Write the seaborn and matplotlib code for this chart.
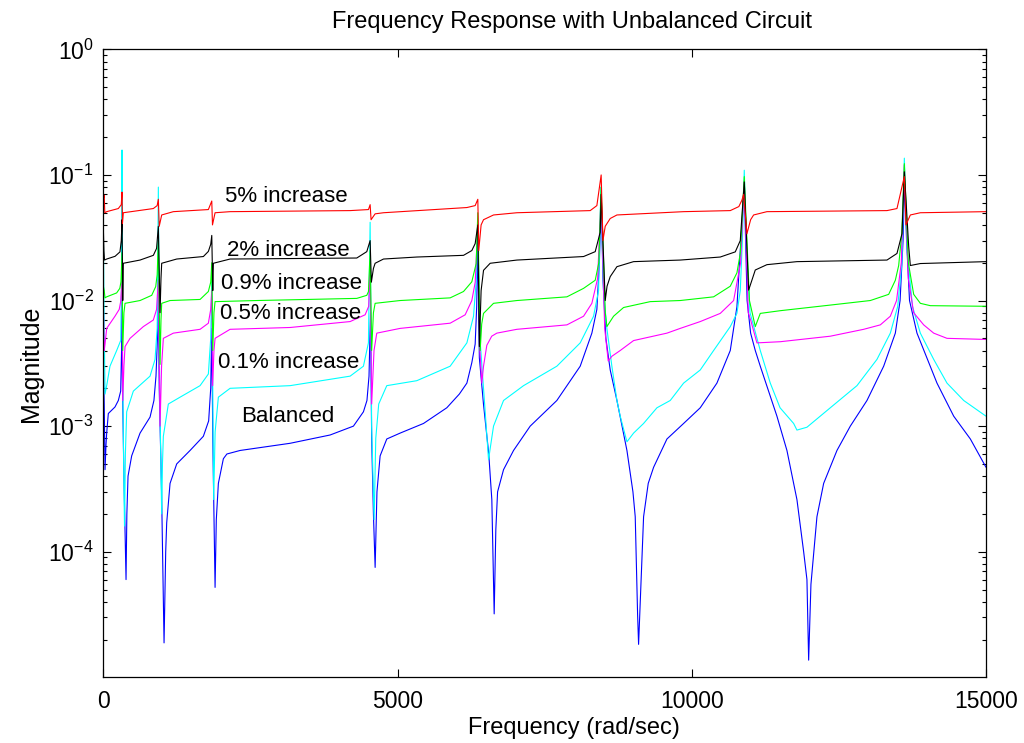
import matplotlib
matplotlib.use("Agg")
import matplotlib.pyplot as plt
import seaborn as sns
from matplotlib.ticker import LogLocator, FixedLocator

# (frequency in rad/sec, magnitude), one list per curve
balanced = [
    (0, 0.0035), (15, 0.0015), (29, 0.00045), (45, 0.0007), (57, 0.00088), (85, 0.00126),
    (198, 0.00142), (255, 0.0016), (295, 0.0019), (310, 0.004), (318, 0.012), (326, 0.002),
    (350, 0.0004), (386, 0.00006), (400, 0.0002), (420, 0.0004), (482, 0.00058), (624, 0.00088),
    (794, 0.00118), (860, 0.0016), (895, 0.0025), (920, 0.005), (935, 0.012), (950, 0.002),
    (990, 0.0003), (1032, 0.0000188), (1060, 0.0001), (1077, 0.00017), (1134, 0.00035),
    (1247, 0.0005), (1474, 0.00064), (1700, 0.00083), (1790, 0.0011), (1825, 0.002),
    (1843, 0.006), (1860, 0.0008), (1885, 0.00015), (1899, 0.000052), (1920, 0.00018),
    (1955, 0.00035), (2040, 0.00055), (2100, 0.0006), (2324, 0.00064), (3174, 0.00073),
    (3854, 0.00085), (4250, 0.001), (4420, 0.0013), (4480, 0.0016), (4515, 0.0025),
    (4540, 0.008), (4560, 0.0008), (4590, 0.0002), (4619, 0.000075), (4650, 0.0003),
    (4704, 0.00058), (4817, 0.00079), (5044, 0.00088), (5441, 0.00105), (5837, 0.0014),
    (6050, 0.0018), (6178, 0.0022), (6262, 0.0032), (6319, 0.0045), (6345, 0.009),
    (6364, 0.03), (6390, 0.0035), (6460, 0.0015), (6550, 0.0006), (6602, 0.00026),
    (6642, 0.000032), (6670, 0.00015), (6700, 0.0003), (6801, 0.00045), (6971, 0.00064),
    (7254, 0.001), (7707, 0.0016), (8104, 0.003), (8302, 0.0055), (8387, 0.0085),
    (8430, 0.02), (8460, 0.07), (8490, 0.015), (8540, 0.005), (8614, 0.0028), (8728, 0.0016),
    (8898, 0.00064), (9000, 0.0003), (9039, 0.00019), (9079, 0.000032), (9096, 0.0000183),
    (9124, 0.00004), (9181, 0.00019), (9260, 0.00035), (9351, 0.00047), (9578, 0.00079),
    (9861, 0.00105), (10144, 0.0014), (10427, 0.0022), (10654, 0.004), (10767, 0.0089),
    (10824, 0.025), (10892, 0.08), (10940, 0.01), (11000, 0.0055), (11079, 0.004),
    (11164, 0.003), (11447, 0.0012), (11617, 0.00064), (11787, 0.00026), (11901, 0.0001),
    (11957, 0.00006), (11986, 0.0000137), (12025, 0.000055), (12127, 0.00019),
    (12241, 0.00035), (12467, 0.00064), (12694, 0.001), (12977, 0.0016), (13261, 0.003),
    (13459, 0.0055), (13540, 0.01), (13590, 0.03), (13617, 0.09), (13650, 0.03),
    (13700, 0.01), (13827, 0.0055), (14167, 0.0022), (14451, 0.0012), (14734, 0.00079),
    (15000, 0.00047),
]

inc_01 = [
    (0, 0.04), (10, 0.01), (29, 0.0018), (57, 0.0021), (113, 0.003), (227, 0.004),
    (295, 0.0048), (308, 0.012), (318, 0.158), (326, 0.004), (345, 0.0005), (360, 0.00016),
    (375, 0.0006), (397, 0.0013), (510, 0.0019), (794, 0.0025), (879, 0.0034), (915, 0.006),
    (935, 0.08), (955, 0.003), (980, 0.0004), (992, 0.0002), (1005, 0.0005), (1020, 0.00083),
    (1105, 0.0015), (1304, 0.0017), (1644, 0.0021), (1785, 0.0026), (1825, 0.005),
    (1843, 0.015), (1860, 0.002), (1875, 0.00026), (1900, 0.0009), (1955, 0.0017),
    (2154, 0.002), (3174, 0.0021), (4194, 0.0025), (4420, 0.003), (4505, 0.0046),
    (4534, 0.042), (4560, 0.001), (4602, 0.00018), (4630, 0.0008), (4680, 0.0015),
    (4817, 0.0021), (5327, 0.0023), (5894, 0.003), (6178, 0.0046), (6291, 0.0075),
    (6340, 0.015), (6364, 0.04), (6400, 0.005), (6480, 0.0015), (6546, 0.00054),
    (6600, 0.0008), (6631, 0.001), (6801, 0.0016), (7141, 0.0021), (7707, 0.003),
    (8104, 0.0046), (8331, 0.0075), (8416, 0.012), (8455, 0.08), (8500, 0.012),
    (8557, 0.006), (8642, 0.003), (8728, 0.0016), (8784, 0.0012), (8898, 0.00075),
    (9011, 0.00088), (9181, 0.00105), (9408, 0.0014), (9634, 0.0016), (9861, 0.0022),
    (10144, 0.0028), (10371, 0.004), (10654, 0.0062), (10767, 0.0079), (10824, 0.012),
    (10860, 0.03), (10892, 0.109), (10930, 0.025), (10990, 0.008), (11164, 0.004),
    (11334, 0.0022), (11500, 0.0014), (11731, 0.00105), (11787, 0.00093), (11957, 0.00098),
    (12354, 0.0014), (12807, 0.0021), (13147, 0.0034), (13374, 0.0055), (13500, 0.009),
    (13570, 0.02), (13612, 0.136), (13660, 0.025), (13750, 0.009), (13884, 0.0055),
    (14111, 0.0034), (14337, 0.0022), (14621, 0.0016), (15000, 0.0012),
]

inc_05 = [
    (0, 0.01), (15, 0.004), (29, 0.0045), (57, 0.006), (198, 0.0075), (270, 0.0085),
    (295, 0.0098), (318, 0.015), (330, 0.0016), (350, 0.003), (369, 0.0043), (454, 0.005),
    (680, 0.0062), (850, 0.007), (905, 0.0085), (935, 0.0146), (964, 0.001), (990, 0.003),
    (1020, 0.005), (1190, 0.0055), (1644, 0.0059), (1785, 0.0066), (1825, 0.0085),
    (1843, 0.012), (1858, 0.0021), (1880, 0.004), (1899, 0.005), (2154, 0.0059),
    (3174, 0.0061), (4194, 0.0068), (4449, 0.0077), (4510, 0.009), (4534, 0.02),
    (4560, 0.0015), (4600, 0.004), (4647, 0.0055), (5044, 0.006), (5894, 0.0066),
    (6149, 0.0077), (6262, 0.01), (6320, 0.014), (6364, 0.04), (6400, 0.004), (6432, 0.0022),
    (6461, 0.003), (6517, 0.0044), (6600, 0.0052), (6687, 0.0055), (7028, 0.0059),
    (7878, 0.0064), (8161, 0.0075), (8302, 0.0095), (8400, 0.015), (8460, 0.07),
    (8520, 0.006), (8580, 0.0033), (8642, 0.0036), (8784, 0.004), (9011, 0.0048),
    (9578, 0.0055), (9804, 0.006), (10144, 0.0068), (10484, 0.0079), (10711, 0.01),
    (10830, 0.02), (10892, 0.09), (10960, 0.008), (11000, 0.007), (11107, 0.0046),
    (11504, 0.0047), (12354, 0.0052), (12921, 0.0059), (13204, 0.0064), (13374, 0.0075),
    (13480, 0.01), (13560, 0.02), (13612, 0.12), (13680, 0.015), (13770, 0.008),
    (13941, 0.0064), (14111, 0.0055), (14337, 0.005), (15000, 0.0049),
]

inc_09 = [
    (0, 0.013), (15, 0.012), (29, 0.0105), (57, 0.0107), (227, 0.0115), (280, 0.0125),
    (300, 0.0141), (318, 0.024), (330, 0.004), (350, 0.008), (369, 0.0095), (624, 0.01),
    (822, 0.011), (890, 0.0129), (915, 0.016), (935, 0.03), (964, 0.0031), (980, 0.007),
    (992, 0.0095), (1134, 0.01), (1644, 0.0102), (1785, 0.0118), (1825, 0.014), (1843, 0.02),
    (1860, 0.004), (1880, 0.008), (1899, 0.0098), (2607, 0.01), (4307, 0.0104),
    (4477, 0.011), (4506, 0.0118), (4534, 0.025), (4560, 0.004), (4590, 0.008),
    (4619, 0.0095), (5044, 0.01), (5894, 0.0105), (6121, 0.0118), (6262, 0.0141),
    (6336, 0.0197), (6364, 0.05), (6404, 0.004), (6430, 0.0065), (6461, 0.0079),
    (6631, 0.0095), (7028, 0.01), (7878, 0.0107), (8161, 0.0125), (8359, 0.0145),
    (8420, 0.02), (8460, 0.08), (8530, 0.008), (8557, 0.0062), (8671, 0.0075),
    (8841, 0.0088), (9294, 0.0098), (9804, 0.01), (10371, 0.0107), (10654, 0.013),
    (10767, 0.0166), (10824, 0.0237), (10892, 0.097), (10980, 0.01), (11079, 0.0062),
    (11164, 0.0079), (11504, 0.0083), (12354, 0.0092), (13034, 0.01), (13346, 0.0112),
    (13459, 0.0145), (13516, 0.019), (13570, 0.035), (13612, 0.123), (13680, 0.02),
    (13771, 0.0112), (13884, 0.0095), (14054, 0.0091), (15000, 0.009),
]

inc_2 = [
    (0, 0.038), (10, 0.025), (20, 0.021), (57, 0.0214), (200, 0.0225), (283, 0.0244),
    (305, 0.03), (318, 0.044), (330, 0.01), (340, 0.0198), (624, 0.021), (850, 0.0229),
    (905, 0.026), (935, 0.039), (964, 0.008), (980, 0.015), (992, 0.0198), (1247, 0.0214),
    (1700, 0.0224), (1785, 0.0246), (1825, 0.028), (1843, 0.033), (1860, 0.012),
    (1870, 0.0198), (2154, 0.0214), (4307, 0.0218), (4477, 0.0245), (4534, 0.03),
    (4555, 0.014), (4590, 0.018), (4619, 0.0198), (4761, 0.0214), (5327, 0.0222),
    (6121, 0.0229), (6262, 0.025), (6319, 0.0284), (6364, 0.04), (6390, 0.0043),
    (6420, 0.012), (6461, 0.0174), (6574, 0.0198), (7028, 0.021), (8161, 0.0224),
    (8359, 0.0245), (8444, 0.035), (8460, 0.07), (8529, 0.01), (8560, 0.013),
    (8614, 0.0155), (8728, 0.0186), (9011, 0.0204), (9804, 0.021), (10484, 0.0222),
    (10739, 0.0244), (10824, 0.03), (10892, 0.088), (10966, 0.0121), (11079, 0.0175),
    (11277, 0.0193), (11787, 0.0204), (13317, 0.021), (13487, 0.0237), (13572, 0.034),
    (13612, 0.106), (13686, 0.027), (13714, 0.019), (13884, 0.0197), (15000, 0.0204),
]

inc_5 = [
    (0, 0.065), (15, 0.069), (25, 0.05), (57, 0.051), (255, 0.054), (305, 0.058),
    (318, 0.073), (325, 0.041), (340, 0.05), (600, 0.052), (850, 0.054), (915, 0.057),
    (935, 0.064), (950, 0.039), (992, 0.048), (1190, 0.051), (1785, 0.053), (1843, 0.062),
    (1855, 0.04), (1899, 0.05), (2154, 0.051), (4194, 0.052), (4506, 0.053), (4534, 0.058),
    (4550, 0.044), (4619, 0.049), (4761, 0.05), (6178, 0.055), (6319, 0.057), (6364, 0.064),
    (6380, 0.025), (6420, 0.04), (6461, 0.044), (6631, 0.048), (7028, 0.05), (8274, 0.052),
    (8387, 0.057), (8460, 0.1), (8490, 0.03), (8529, 0.039), (8614, 0.045), (8728, 0.048),
    (9861, 0.051), (10654, 0.052), (10800, 0.056), (10852, 0.063), (10881, 0.07),
    (10937, 0.034), (11000, 0.044), (11051, 0.048), (11277, 0.051), (13317, 0.052),
    (13487, 0.054), (13612, 0.097), (13640, 0.04), (13714, 0.048), (13884, 0.05),
    (15000, 0.051),
]

# drawing order: red ends up on top
curves = [balanced, inc_01, inc_05, inc_09, inc_2, inc_5]
curve_colors = ["#0000ff", "#00ffff", "#ff00ff", "#00ff00", "#000000", "#ff0000"]

curve_labels = ["5% increase", "2% increase", "0.9% increase", "0.5% increase",
                "0.1% increase", "Balanced"]
label_x = [3118, 3140, 3203, 3174, 3157, 3128]
label_y = [0.0679, 0.0252, 0.01354, 0.0079, 0.0032, 0.00119]

sns.set_theme(style="ticks")
plt.rcParams["font.family"] = ["Liberation Sans", "DejaVu Sans"]
plt.rcParams["mathtext.fontset"] = "custom"
plt.rcParams["mathtext.rm"] = "Liberation Sans"
plt.rcParams["mathtext.it"] = "Liberation Sans:italic"
plt.rcParams["mathtext.bf"] = "Liberation Sans:bold"

fig = plt.figure(figsize=(10.24, 7.43), dpi=100)
ax = fig.add_axes([0.1009, 0.0884, 0.8620, 0.8452])

for pts, color in zip(curves, curve_colors):
    freq = [p[0] for p in pts]
    mag = [p[1] for p in pts]
    sns.lineplot(x=freq, y=mag, ax=ax, color=color, linewidth=0.8,
                 estimator=None, sort=False, legend=False)

ax.set_yscale("log")
ax.set_xlim(0, 15000)
ax.set_ylim(1e-5, 1e0)
ax.xaxis.set_major_locator(FixedLocator([0, 5000, 10000, 15000]))
ax.yaxis.set_major_locator(FixedLocator([1e-4, 1e-3, 1e-2, 1e-1, 1e0]))
ax.yaxis.set_minor_locator(LogLocator(base=10, subs=range(2, 10), numticks=10))
ax.tick_params(which="both", direction="in", top=True, right=True, width=0.8,
               colors="black")
ax.tick_params(which="major", length=6)
ax.tick_params(which="minor", length=3)
ax.tick_params(axis="x", pad=9, labelsize=16.5)
ax.tick_params(axis="y", pad=7, labelsize=16.5)
for spine in ax.spines.values():
    spine.set_linewidth(0.9)
    spine.set_color("black")

for text, tx, ty in zip(curve_labels, label_x, label_y):
    ax.text(tx, ty, text, ha="center", va="center", fontsize=16, color="black")

ax.set_xlabel("Frequency (rad/sec)", fontsize=17, color="black")
ax.xaxis.label.set_va("center")
ax.xaxis.set_label_coords(0.533, -0.081)
ax.set_ylabel("Magnitude", fontsize=18, color="black")
ax.yaxis.label.set_va("center")
ax.yaxis.set_label_coords(-0.082, 0.5)
fig.text(0.5586, 0.9704, "Frequency Response with Unbalanced Circuit", ha="center",
         va="center", fontsize=17, color="black")

fig.savefig("out.png", dpi=100)
